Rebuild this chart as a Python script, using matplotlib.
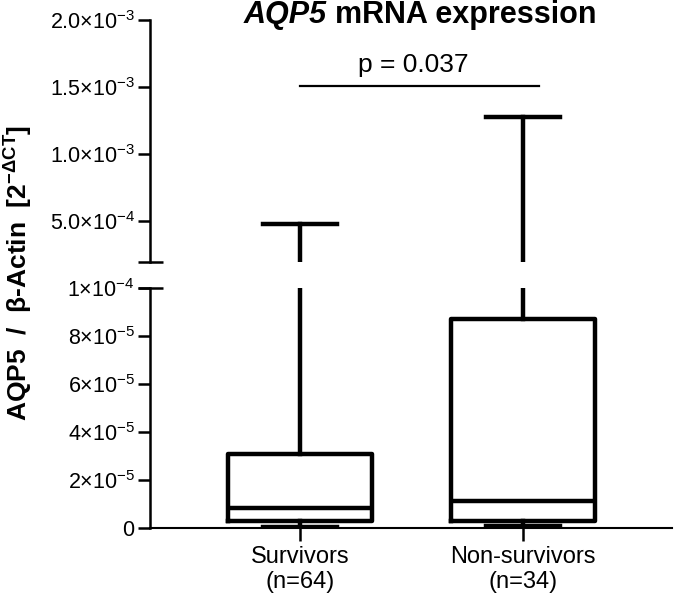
import matplotlib
matplotlib.use("Agg")
import matplotlib.pyplot as plt
from matplotlib.offsetbox import TextArea, HPacker, AnchoredOffsetbox

# box summary values
groups = ["Survivors", "Non-survivors"]
n_counts = [64, 34]
whis_low = [5e-7, 1e-6]
q1 = [3.0e-6, 2.8e-6]
medians = [8.3e-6, 1.14e-5]
q3 = [3.1e-5, 8.7e-5]
whis_high = [4.8e-4, 1.28e-3]

upper_ticks = [5e-4, 1e-3, 1.5e-3, 2e-3]
upper_labels = ["5.0×10$^{-4}$", "1.0×10$^{-3}$", "1.5×10$^{-3}$", "2.0×10$^{-3}$"]
lower_ticks = [0, 2e-5, 4e-5, 6e-5, 8e-5, 1e-4]
lower_labels = ["0", "2×10$^{-5}$", "4×10$^{-5}$", "6×10$^{-5}$", "8×10$^{-5}$", "1×10$^{-4}$"]

p_text = "p = 0.037"

plt.rcParams["font.family"] = ["Liberation Sans", "DejaVu Sans"]
plt.rcParams["mathtext.fontset"] = "custom"
plt.rcParams["mathtext.rm"] = "Liberation Sans"
plt.rcParams["mathtext.it"] = "Liberation Sans:italic"
plt.rcParams["mathtext.bf"] = "Liberation Sans:bold"

LW = 3.2
SPW = 1.8


def main():
    fig = plt.figure(figsize=(6.85, 6.0), dpi=100)
    ax_top = fig.add_axes([0.219, 0.5633, 0.762, 0.4033])
    ax_bot = fig.add_axes([0.219, 0.12, 0.762, 0.40])

    stats = []
    for i in range(len(groups)):
        stats.append(dict(med=medians[i], q1=q1[i], q3=q3[i],
                          whislo=whis_low[i], whishi=whis_high[i], fliers=[]))

    positions = [1, 2]
    for ax in (ax_top, ax_bot):
        ax.bxp(stats, positions=positions, widths=0.646, capwidths=0.33,
               showfliers=False,
               boxprops=dict(color="black", linewidth=LW),
               medianprops=dict(color="black", linewidth=LW),
               whiskerprops=dict(color="black", linewidth=LW),
               capprops=dict(color="black", linewidth=LW))
        ax.set_xlim(0.327, 2.668)
        for s in ("top", "right"):
            ax.spines[s].set_visible(False)
        ax.spines["left"].set_linewidth(SPW)
        ax.spines["bottom"].set_linewidth(1.5)
        ax.tick_params(axis="y", length=9, width=SPW, labelsize=15.5, pad=2)

    ax_top.set_ylim(1.96e-4, 2.0e-3)
    ax_top.spines["bottom"].set_visible(False)
    ax_top.set_xticks([])
    ax_top.set_yticks(upper_ticks, upper_labels)

    ax_bot.set_ylim(0, 1e-4)
    ax_bot.set_yticks(lower_ticks, lower_labels)
    ax_bot.set_xticks(positions, [f"{g}\n(n={n})" for g, n in zip(groups, n_counts)])
    ax_bot.tick_params(axis="x", length=9, width=SPW, labelsize=17, pad=4)

    # break marks at the axis ends
    ax_top.plot([0], [0], marker="_", markersize=18, mew=SPW, color="black",
                transform=ax_top.transAxes, clip_on=False)
    ax_bot.plot([0], [1], marker="_", markersize=18, mew=SPW, color="black",
                transform=ax_bot.transAxes, clip_on=False)

    # significance bar
    ax_top.plot([1.0, 2.07], [1.507e-3, 1.507e-3], color="black", linewidth=1.6)
    ax_top.text(1.51, 1.664e-3, p_text, ha="center", va="center", fontsize=19)

    # title with italic gene name
    t1 = TextArea("AQP5", textprops=dict(fontsize=22, fontweight="bold", fontstyle="italic"))
    t2 = TextArea("mRNA expression", textprops=dict(fontsize=22, fontweight="bold"))
    box = HPacker(children=[t1, t2], align="baseline", pad=0, sep=6)
    anch = AnchoredOffsetbox(loc="center", child=box, pad=0, borderpad=0, frameon=False,
                             bbox_to_anchor=(0.613, 0.975), bbox_transform=fig.transFigure)
    fig.add_artist(anch)

    fig.text(0.028, 0.545, r"AQP5  /  β-Actin  [2$^{\mathbf{-\Delta CT}}$]",
             rotation=90, ha="center", va="center", fontsize=19, fontweight="bold")

    fig.savefig("out.png", dpi=100)


if __name__ == "__main__":
    main()
